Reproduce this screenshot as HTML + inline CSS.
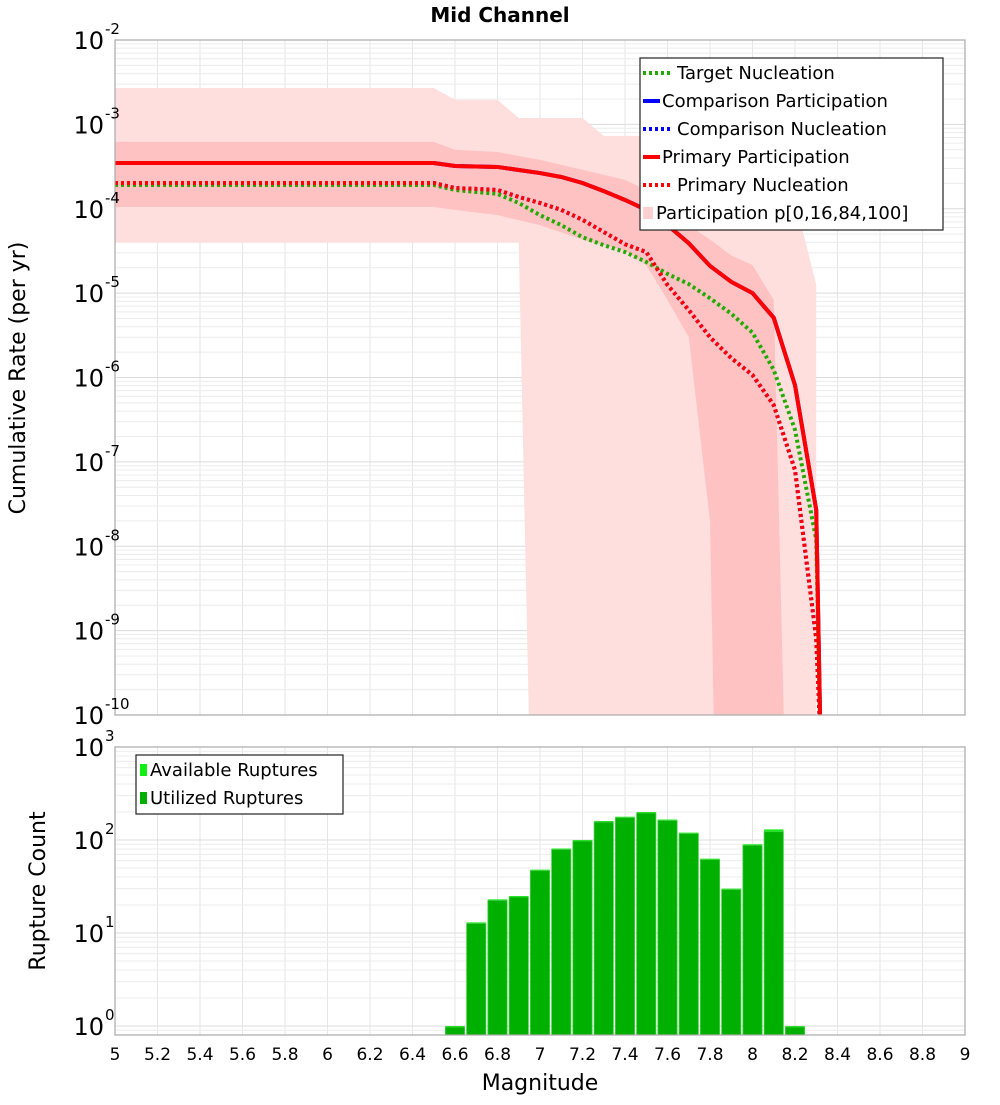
<!DOCTYPE html>
<html><head><meta charset="utf-8"><style>
body{margin:0;background:#fff;font-family:"Liberation Sans","DejaVu Sans",sans-serif}
svg text{font-family:"DejaVu Sans","Liberation Sans",sans-serif}
</style></head><body>
<svg id="c" width="1000" height="1100" xmlns="http://www.w3.org/2000/svg">
<text x="500" y="22" text-anchor="middle" font-size="20" font-weight="bold">Mid Channel</text>
<g id="g1"></g>
<g id="g2"></g>
</svg>
<script>
const xTicks=[5,5.2,5.4,5.6,5.8,6,6.2,6.4,6.6,6.8,7,7.2,7.4,7.6,7.8,8,8.2,8.4,8.6,8.8,9];
const topExps=[-2,-3,-4,-5,-6,-7,-8,-9,-10];
const botExps=[0,1,2,3];
const ppMags=[5,6.5,6.6,6.7,6.8,6.9,7.0,7.1,7.2,7.3,7.4,7.5,7.6,7.7,7.8,7.9,8.0,8.1,8.2,8.3,8.32];
const ppVals=[3.48e-4,3.48e-4,3.21e-4,3.17e-4,3.13e-4,2.88e-4,2.65e-4,2.38e-4,2.02e-4,1.62e-4,1.27e-4,9.7e-5,6.4e-5,3.9e-5,2.1e-5,1.36e-5,1.0e-5,5.1e-6,8.1e-7,2.7e-8,1e-11];
const tnMags=[5,6.5,6.6,6.7,6.8,6.9,7.0,7.1,7.2,7.3,7.4,7.5,7.6,7.7,7.8,7.9,8.0,8.1,8.2,8.3,8.32];
const tnVals=[1.91e-4,1.91e-4,1.67e-4,1.58e-4,1.50e-4,1.17e-4,8.4e-5,6.4e-5,4.6e-5,3.7e-5,3.07e-5,2.34e-5,1.69e-5,1.28e-5,8.7e-6,5.7e-6,3.4e-6,1.23e-6,2.4e-7,1.19e-8,1e-11];
const pnMags=[5,6.5,6.6,6.7,6.8,6.9,7.0,7.1,7.2,7.3,7.4,7.5,7.6,7.7,7.8,7.9,8.0,8.1,8.2,8.3,8.32];
const pnVals=[2.02e-4,2.02e-4,1.76e-4,1.72e-4,1.67e-4,1.38e-4,1.17e-4,9.7e-5,7.4e-5,5.3e-5,3.8e-5,3.07e-5,1.25e-5,6.3e-6,3.0e-6,1.7e-6,1.07e-6,4.7e-7,8.0e-8,8e-10,1e-11];
const outerUpMags=[5,6.5,6.6,6.8,6.9,7.2,7.3,8.0,8.1,8.2,8.3,8.3];
const outerUpVals=[2.7e-3,2.7e-3,1.95e-3,1.95e-3,1.19e-3,1.19e-3,7.3e-4,7.3e-4,3.8e-4,1.27e-4,1.25e-5,1e-11];
const outerLoMags=[5,6.9,6.95];
const outerLoVals=[4e-5,4e-5,1e-11];
const innerUpMags=[5,6.5,6.6,6.8,7.0,7.2,7.4,7.5,7.6,7.7,7.8,7.9,8.0,8.1,8.15];
const innerUpVals=[6.2e-4,6.2e-4,5.0e-4,4.7e-4,3.8e-4,2.9e-4,2.2e-4,1.67e-4,9.7e-5,6.4e-5,4.3e-5,2.8e-5,2.15e-5,8.3e-6,1e-11];
const innerLoMags=[5,6.5,6.6,6.8,7.0,7.2,7.4,7.5,7.6,7.7,7.8,7.82];
const innerLoVals=[1.05e-4,1.05e-4,9.7e-5,8.4e-5,6.4e-5,4.3e-5,3.2e-5,2.15e-5,8.3e-6,3.0e-6,2.0e-8,1e-11];
const binMags=[6.6,6.7,6.8,6.9,7.0,7.1,7.2,7.3,7.4,7.5,7.6,7.7,7.8,7.9,8.0,8.1,8.2];
const availCounts=[1,13,23,25,48,81,100,160,178,200,166,120,63,30,90,130,1];
const usedCounts=[1,13,23,25,48,81,100,160,178,200,166,120,63,30,90,126,1];

const NS='http://www.w3.org/2000/svg';
function mk(tag,attrs,parent){const e=document.createElementNS(NS,tag);for(const k in attrs)e.setAttribute(k,attrs[k]);parent.appendChild(e);return e;}
const L=115,R=965,T1=40,B1=715,T2=747,B2=1035;
const X=m=>L+(m-5)*(R-L)/4;
const Y1=v=>{const l=Math.max(Math.log10(v),-10.3);return T1+(-2-l)*(B1-T1)/8;};
const Y2=v=>{const l=Math.log10(v);return 1026-l*93;};
const g1=document.getElementById('g1'),g2=document.getElementById('g2');

function grid(g,top,bot,exps,Y,lo){
  for(let m=5;m<=9.001;m+=0.2){const l=mk('line',{x1:X(m),x2:X(m),y1:top,y2:bot,stroke:'#e6e6e6','stroke-width':1},g);
    }
  for(let i=0;i<exps.length;i++){const e=exps[i];for(let k=1;k<10;k++){const y=Y(k*Math.pow(10,e));if(y<top-0.5||y>bot)continue;
    const l=mk('line',{x1:L,x2:R,y1:y,y2:y,stroke:k==1?'#dcdcdc':'#ececec','stroke-width':1},g);
    }}
  if(lo!==undefined){for(let k=8;k<10;k++){const y=Y(k*Math.pow(10,lo));const l=mk('line',{x1:L,x2:R,y1:y,y2:y,stroke:'#ececec'},g);
    }}
}
grid(g1,T1,B1,topExps,Y1);
grid(g2,T2,B2,botExps,Y2,-1);

const clip=mk('clipPath',{id:'cp1'},g1);mk('rect',{x:L,y:T1,width:R-L,height:B1-T1},clip);
const pg=mk('g',{'clip-path':'url(#cp1)'},g1);
function band(um,uv,lm,lv,fill,name){let pts=um.map((m,i)=>X(m)+','+Y1(uv[i]));
  for(let i=lm.length-1;i>=0;i--)pts.push(X(lm[i])+','+Y1(lv[i]));
  const p=mk('polygon',{points:pts.join(' '),fill:fill},pg);}
band(outerUpMags,outerUpVals,outerLoMags,outerLoVals,'#ffdede','band-p0-p100');
band(innerUpMags,innerUpVals,innerLoMags,innerLoVals,'#ffc2c2','band-p16-p84');
function line(ms,vs,col,dash,w,name){const d=ms.map((m,i)=>(i?'L':'M')+X(m)+' '+Y1(vs[i])).join(' ');
  const p=mk('path',{d:d,fill:'none',stroke:col,'stroke-width':w,'stroke-dasharray':dash||'none'},pg);}
line(ppMags,ppVals,'#0000ff','',4,'comparison-participation-line');
line(pnMags,pnVals,'#0000ff','3 3',4,'comparison-nucleation-line');
line(tnMags,tnVals,'#22aa00','3 3',4,'target-nucleation-line');
line(pnMags,pnVals,'#ff0000','3 3',4,'primary-nucleation-line');
line(ppMags,ppVals,'#ff0000','',4,'primary-participation-line');

for(let i=0;i<binMags.length;i++){
  const x0=X(binMags[i]-0.05)+1,w=X(binMags[i]+0.05)-X(binMags[i]-0.05)-2;
  const ya=Y2(availCounts[i]);
  const a=mk('rect',{x:x0,y:ya,width:w,height:B2-ya,fill:'#11ee11'},g2);
  
  const yu=Y2(usedCounts[i]);
  const b=mk('rect',{x:x0,y:yu+1,width:w,height:B2-yu-1,fill:'#00b000',stroke:'#44d044','stroke-width':0.8},g2);
  
}

[[T1,B1,g1],[T2,B2,g2]].forEach(([t,b,g])=>{const r=mk('rect',{x:L,y:t,width:R-L,height:b-t,fill:'none',stroke:'#aaaaaa','stroke-width':1.2},g);
  });

function ytick(g,y,e){const t=mk('text',{x:104,y:y+9,'text-anchor':'end','font-size':24},g);t.textContent='10';
  
  const s=mk('text',{x:105,y:y-6,'font-size':15},g);s.textContent=String(e);
  }
topExps.forEach(e=>ytick(g1,Y1(Math.pow(10,e)),e));
botExps.forEach(e=>ytick(g2,Y2(Math.pow(10,e)),e));
xTicks.forEach(m=>{const t=mk('text',{x:X(m),y:1060,'text-anchor':'middle','font-size':17},g2);t.textContent=String(m);
  });
let t=mk('text',{x:540,y:1090,'text-anchor':'middle','font-size':22},g2);t.textContent='Magnitude';

t=mk('text',{x:0,y:0,'text-anchor':'middle','font-size':22,transform:'translate(25,378) rotate(-90)'},g1);t.textContent='Cumulative Rate (per yr)';

t=mk('text',{x:0,y:0,'text-anchor':'middle','font-size':22,transform:'translate(45,891) rotate(-90)'},g2);t.textContent='Rupture Count';


// legends
let lg=mk('g',{},g1);
mk('rect',{x:640,y:58,width:303,height:172,fill:'#fff',stroke:'#222','stroke-width':1.2},lg);
const ents=[['Target Nucleation','#22aa00','3 3',17],['Comparison Participation','#0000ff','',0],['Comparison Nucleation','#0000ff','3 3',17],['Primary Participation','#ff0000','',0],['Primary Nucleation','#ff0000','3 3',17]];
ents.forEach((en,i)=>{const y=73+28*i;
  const l=mk('line',{x1:643,x2:660+(en[3]?10:0)-(en[3]?0:0),y1:y,y2:y,stroke:en[1],'stroke-width':4,'stroke-dasharray':en[2]||'none'},lg);
  if(en[3])l.setAttribute('x2',672);
  
  const tx=mk('text',{x:en[3]?677:662,y:y+6,'font-size':18},lg);tx.textContent=en[0];
  });
mk('rect',{x:643,y:207,width:10,height:12,fill:'#ffd0d0'},lg);
t=mk('text',{x:656,y:219,'font-size':18},lg);t.textContent='Participation p[0,16,84,100]';


let lg2=mk('g',{},g2);
mk('rect',{x:136,y:755,width:207,height:59,fill:'#fff',stroke:'#222','stroke-width':1.2},lg2);
mk('rect',{x:140,y:764,width:7,height:12,fill:'#11ee11'},lg2);
mk('rect',{x:140,y:792,width:7,height:12,fill:'#00b000'},lg2);
t=mk('text',{x:150,y:776,'font-size':18},lg2);t.textContent='Available Ruptures';

t=mk('text',{x:150,y:804,'font-size':18},lg2);t.textContent='Utilized Ruptures';

</script>
</body></html>
